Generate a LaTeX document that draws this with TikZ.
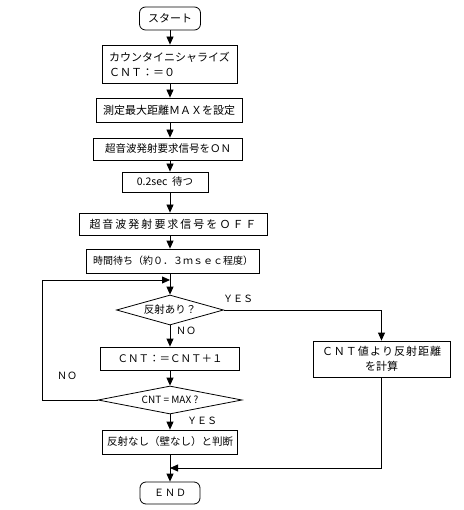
\documentclass[tikz,border=0pt]{standalone}
\usepackage{fontspec}
\newfontfamily\jp{Noto Sans CJK JP}
\usetikzlibrary{shapes.geometric,arrows.meta}
\begin{document}
\begin{tikzpicture}[x=1pt,y=-1pt,line width=0.8pt,
  box/.style={draw,rectangle,inner sep=0pt,font=\jp\fontsize{11}{15}\selectfont},
  dia/.style={draw,diamond,inner sep=0pt,aspect=3.5,font=\jp\fontsize{10.5}{12}\selectfont},
  term/.style={draw,rectangle,rounded corners=6pt,inner sep=0pt,font=\jp\fontsize{11}{13}\selectfont},
  arr/.style={-{Triangle[width=7pt,length=8pt]}},
  lbl/.style={inner sep=0pt,font=\jp\fontsize{10}{12}\selectfont}]
\useasboundingbox (0,0) rectangle (463,510);
\coordinate (mx) at (170,0);
\node[term,minimum width=61pt,minimum height=23pt] (start) at (170,18.5) {スタート};
\node[box,minimum width=135pt,minimum height=38pt,align=left] (b1) at (169.5,64) {カウンタイニシャライズ\\ＣＮＴ：＝０};
\node[box,minimum width=146pt,minimum height=24pt] (b2) at (169,110) {測定最大距離ＭＡＸを設定};
\node[box,minimum width=149pt,minimum height=22pt,font=\jp\fontsize{10.5}{12}\selectfont] (b3) at (168,149) {超音波発射要求信号をＯＮ};
\node[box,minimum width=86pt,minimum height=20pt,font=\jp\fontsize{10.5}{12}\selectfont] (b4) at (165,182) {0.2sec\ \ 待つ};
\node[box,minimum width=188pt,minimum height=22pt] (b5) at (173,224) {超\kern2pt 音\kern2pt 波\kern2pt 発\kern2pt 射\kern2pt 要\kern2pt 求\kern2pt 信\kern2pt 号\kern2pt を\kern2pt Ｏ\kern2pt Ｆ\kern2pt Ｆ};
\node[box,minimum width=173pt,minimum height=24pt,font=\jp\fontsize{10}{12}\selectfont] (b6) at (173,261) {時間待ち（約０．３ｍｓｅｃ程度）};
\coordinate (j1) at (170,280);
\coordinate (lc) at (42,280);
\node[dia,minimum width=107pt,minimum height=30pt] (d1) at (170,310) {反射あり？};
\node[box,minimum width=139pt,minimum height=23pt,font=\jp\fontsize{10.5}{12}\selectfont] (b7) at (170,358.5) {ＣＮＴ：＝ＣＮＴ＋１};
\node[dia,minimum width=144pt,minimum height=28pt,font=\jp\fontsize{10}{11}\selectfont] (d2) at (170,400) {CNT\ =\ MAX\ ?};
\node[box,minimum width=135pt,minimum height=24pt,font=\jp\fontsize{10.5}{12}\selectfont] (b8) at (170,442) {反射なし（壁なし）と判断};
\node[term,minimum width=60pt,minimum height=22pt,font=\jp\fontsize{10}{12}\selectfont] (end) at (170,493) {Ｅ\kern1pt Ｎ\kern1pt Ｄ};
\node[box,minimum width=137pt,minimum height=36pt,align=center,font=\jp\fontsize{11}{15}\selectfont] (rb) at (381.5,359) {Ｃ\kern1pt Ｎ\kern1pt Ｔ\kern1pt 値\kern1pt よ\kern1pt り\kern1pt 反\kern1pt 射\kern1pt 距\kern1pt 離\\を計算};
\coordinate (j2) at (170,468);
% main flow
\draw[arr] (start.south) -- (start.south |- b1.north);
\draw[arr] (b1.south -| mx) -- (b2.north -| mx);
\draw[arr] (b2.south -| mx) -- (b3.north -| mx);
\draw[arr] (b3.south -| mx) -- (b4.north -| mx);
\draw[arr] (b4.south -| mx) -- (b5.north -| mx);
\draw[arr] (b5.south -| mx) -- (b6.north -| mx);
\draw[arr] (b6.south -| mx) -- (d1.north);
\draw[arr] (d2.west) -| (lc) -- (j1);
\draw[arr] (d1.south) -- (b7.north);
\draw[arr] (b7.south) -- (d2.north);
\draw[arr] (d2.south) -- (b8.north);
\draw[arr] (b8.south) -- (end.north);
\draw[arr] (d1.east) -| (rb.north);
\draw[arr] (rb.south) |- (j2);
% labels
\node[lbl] (yes1) at (238,299) {ＹＥＳ};
\node[lbl] (no1) at (186,331) {ＮＯ};
\node[lbl] (no2) at (67,376) {ＮＯ};
\node[lbl] (yes2) at (202,421) {ＹＥＳ};
\end{tikzpicture}
\end{document}
